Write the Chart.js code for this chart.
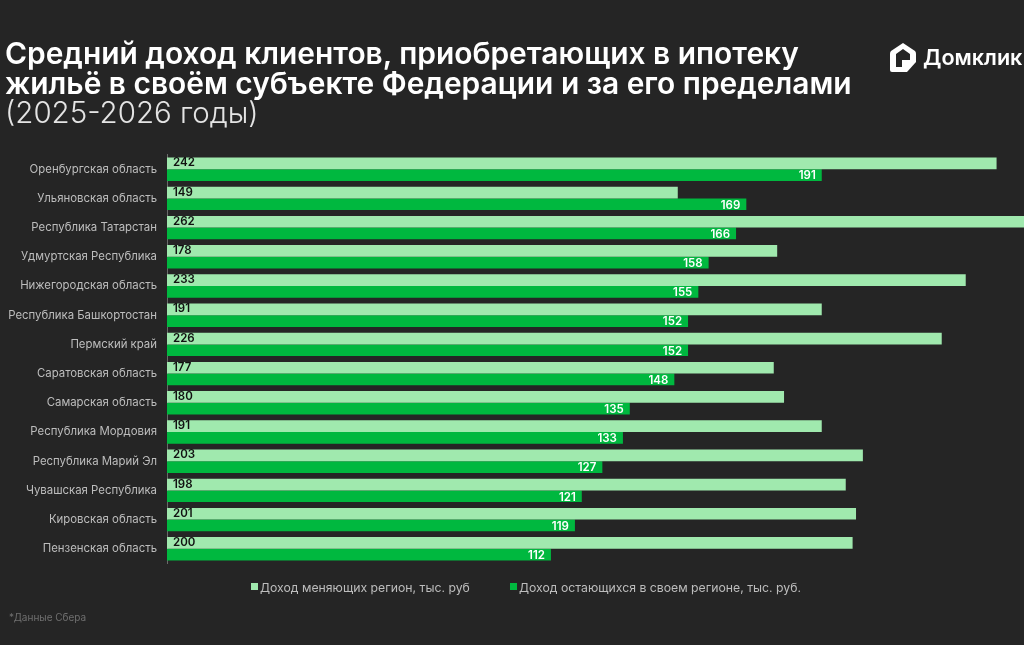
<!DOCTYPE html>
<html lang="ru">
<head>
<meta charset="utf-8">
<title>Средний доход клиентов</title>
<script src="https://cdn.jsdelivr.net/npm/chart.js@4/dist/chart.umd.min.js"></script>
<style>
    html, body { margin: 0; width: 1024px; height: 645px; overflow: hidden; background: #252525; font-family: Inter, sans-serif; }
    #myChart { position: absolute; left: 0; top: 0; }
    .title { position: absolute; left: 5px; top: 39px; color: #fff; font-size: 29.9px; line-height: 29.5px; font-weight: 600; white-space: nowrap; }
    .title span { display: block; font-weight: 300; color: #e4e4e4; font-size: 29.5px; }
    .logo { position: absolute; left: 889px; top: 42px; width: 28px; height: 32px; }
    .logo-text { position: absolute; left: 923px; top: 44px; color: #fff; font-size: 21.6px; font-weight: 600; white-space: nowrap; }
    .legend span { position: absolute; top: 580px; color: #bdbdbd; font-size: 12.25px; white-space: nowrap; }
    .legend i { position: absolute; top: 583px; width: 7px; height: 7px; }
    .note { position: absolute; left: 9px; top: 611px; color: #6f6f6f; font-size: 10px; }
</style>
</head>
<body>
<canvas id="myChart" width="1024" height="645"></canvas>

<div class="title">Средний доход клиентов, приобретающих в ипотеку<br>жильё в своём субъекте Федерации и за его пределами<span>(2025-2026 годы)</span></div>

<!-- house mark with a folded corner -->
<svg class="logo" viewBox="0 0 28 32">
    <path fill="#fff" d="M14 1 L26 9 Q27 10 27 12 L27 20 L18 30 L3 30 Q1 30 1 28 L1 12 Q1 10 2 9 Z"/>
    <path fill="#252525" d="M14 7 L21 12 L21 18 L13 18 L13 25 L7 25 L7 12 Z"/>
    <path fill="#fff" d="M16 21 L21 21 L16 26 Z"/>
</svg>
<div class="logo-text">Домклик</div>

<div class="legend" id="legend"></div>
<div class="note">*Данные Сбера</div>

<script>
var regions = ['Оренбургская область', 'Ульяновская область', 'Республика Татарстан', 'Удмуртская Республика', 'Нижегородская область', 'Республика Башкортостан', 'Пермский край', 'Саратовская область', 'Самарская область', 'Республика Мордовия', 'Республика Марий Эл', 'Чувашская Республика', 'Кировская область', 'Пензенская область'];

var doxod_menyayut = [242, 149, 262, 178, 233, 191, 226, 177, 180, 191, 203, 198, 201, 200];
var doxod_ostayutsya = [191, 169, 166, 158, 155, 152, 152, 148, 135, 133, 127, 121, 119, 112];

var label_menyayut = 'Доход меняющих регион, тыс. руб';
var label_ostayutsya = 'Доход остающихся в своем регионе, тыс. руб.';

var color_light = '#a0e9ae';
var color_dark = '#00b83f';

// value labels: light bars at the base, dark bars at the end
var barValues = {
    id: 'barValues',
    afterDatasetsDraw: function(chart) {
        var c = chart.ctx;
        c.save();
        c.font = '600 11.5px Inter, sans-serif';
        c.textBaseline = 'middle';
        chart.data.datasets.forEach(function(ds, d) {
            chart.getDatasetMeta(d).data.forEach(function(bar, i) {
                if (d == 0) {
                    c.fillStyle = '#111';
                    c.textAlign = 'left';
                    c.fillText(ds.data[i], bar.base + 6, bar.y - 0.5);
                } else {
                    c.fillStyle = '#fff';
                    c.textAlign = 'right';
                    c.fillText(ds.data[i], bar.x - 6, bar.y + 1);
                }
            });
        });
        c.restore();
    }
};

var config = new Chart(document.getElementById('myChart').getContext('2d'), {
    type: 'bar',
    data: {
        labels: regions,
        datasets: [{
            label: label_menyayut,
            data: doxod_menyayut,
            backgroundColor: color_light,
            categoryPercentage: 0.8,
            barPercentage: 1
        }, {
            label: label_ostayutsya,
            data: doxod_ostayutsya,
            backgroundColor: color_dark,
            categoryPercentage: 0.8,
            barPercentage: 1
        }]
    },
    options: {
        indexAxis: 'y',
        responsive: false,
        animation: false,
        layout: { padding: { top: 154.6, bottom: 81.6, left: 0, right: 0 } },
        plugins: { legend: { display: false }, tooltip: { enabled: false } },
        scales: {
            x: { display: false, min: 0, max: 250 },
            y: {
                afterFit: function(scale) { scale.width = 167; },
                grid: { display: false, drawTicks: false },
                border: { color: '#6a6a6a', width: 1 },
                ticks: { color: '#bdbdbd', font: { family: 'Inter, sans-serif', size: 11.4 }, padding: 10, autoSkip: false }
            }
        }
    },
    plugins: [barValues]
});

// legend row under the plot, built from the datasets
var legendPos = [[251, 260], [510, 519]];
config.data.datasets.forEach(function(ds, i) {
    var box = document.createElement('i');
    box.style.left = legendPos[i][0] + 'px';
    box.style.background = ds.backgroundColor;
    var txt = document.createElement('span');
    txt.style.left = legendPos[i][1] + 'px';
    txt.textContent = ds.label;
    document.getElementById('legend').appendChild(box);
    document.getElementById('legend').appendChild(txt);
});
</script>
</body>
</html>
